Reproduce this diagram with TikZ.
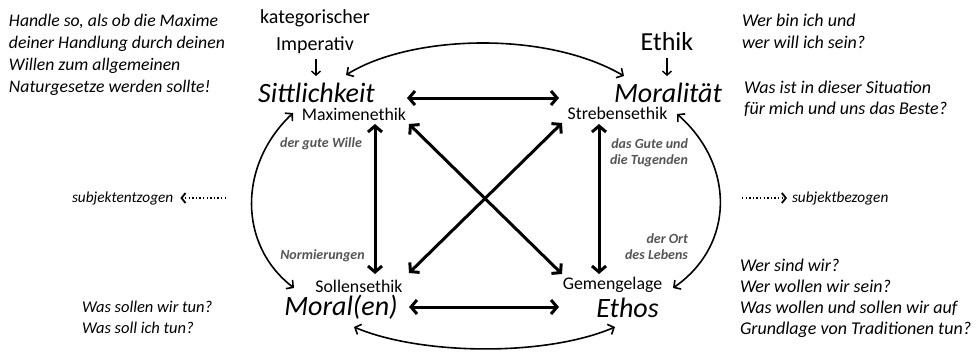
\documentclass[tikz,border=0pt]{standalone}
\usepackage{fontspec}
\setmainfont{Carlito}
\usetikzlibrary{arrows.meta}
\definecolor{labelgray}{RGB}{85,85,85}
\begin{document}
\begin{tikzpicture}[x=1pt,y=-1pt,
  every node/.style={inner sep=0pt, outer sep=0pt},
  big/.style={font=\fontsize{28}{32}\selectfont\itshape},
  head/.style={font=\fontsize{20}{27}\selectfont},
  sub/.style={font=\fontsize{17.8}{20}\selectfont},
  side/.style={font=\fontsize{17.7}{22}\selectfont\itshape, align=left, anchor=west},
  gray label/.style={font=\fontsize{14}{16}\selectfont\bfseries\itshape, text=labelgray},
  dir label/.style={font=\fontsize{15.3}{18}\selectfont\itshape},
  thick link/.style={line width=3pt, {Straight Barb[length=6pt,width=14pt]}-{Straight Barb[length=6pt,width=14pt]}},
  arc link/.style={line width=1.6pt, {Straight Barb[length=5pt,width=11pt]}-{Straight Barb[length=5pt,width=11pt]}},
  small down/.style={line width=1.4pt, -{Straight Barb[length=4pt,width=9pt]}},
  dotted link/.style={line width=1.8pt, dash pattern=on 1.4pt off 2.2pt, -{Straight Barb[length=4pt,width=10pt,sep=1pt]}}
]
\useasboundingbox (0,0) rectangle (979,351);

% side texts
\node[side] (maxim) at (9,55) {Handle so, als ob die Maxime\\deiner Handlung durch deinen\\Willen zum allgemeinen\\Naturgesetze werden sollte!};
\node[side, font=\fontsize{18}{22}\selectfont\itshape] (wer) at (742,31) {Wer bin ich und\\wer will ich sein?};
\node[side, font=\fontsize{18}{21}\selectfont\itshape] (sit) at (744,98.5) {Was ist in dieser Situation\\für mich und uns das Beste?};
\node[side, font=\fontsize{16.5}{21}\selectfont\itshape] (tun) at (82,317.5) {Was sollen wir tun?\\Was soll ich tun?};
\node[side, font=\fontsize{18}{21}\selectfont\itshape] (trad) at (740,298) {Wer sind wir?\\Wer wollen wir sein?\\Was wollen und sollen wir auf\\Grundlage von Traditionen tun?};

% headings above the two upper terms
\node[head, align=center] (kat) at (315,32) {kategorischer\\Imperativ};
\node[head, font=\fontsize{26}{30}\selectfont] (ethik) at (667,42) {Ethik};

% the four terms
\node[big] (sitt) at (316.5,93) {Sittlichkeit};
\node[sub] (maxi) at (354,114) {Maximenethik};
\node[big] (moral) at (668,93) {Moralität};
\node[sub] (streb) at (617.5,113) {Strebensethik};
\node[sub] (soll) at (359,286) {Sollensethik};
\node[big] (moren) at (341,307) {Moral(en)};
\node[sub] (gem) at (612.5,285) {Gemengelage};
\node[big] (ethos) at (627.5,308) {Ethos};

% gray labels
\node[gray label] (wille) at (321,144) {der gute Wille};
\node[gray label, align=right, anchor=east] (tug) at (688,152.5) {das Gute und\\die Tugenden};
\node[gray label] (norm) at (322.5,256) {Normierungen};
\node[gray label, align=right, anchor=east] (ort) at (688,246.5) {der Ort\\des Lebens};

% direction labels with dotted pointers
\node[dir label, anchor=west] (entz) at (72,198) {subjektentzogen};
\node[dir label, anchor=west] (bez) at (792,198) {subjektbezogen};
\coordinate (entzfrom) at (226,198);
\coordinate (bezfrom) at (742,198);
\draw[dotted link, shorten >=6pt] (entzfrom) -- (entz.east);
\draw[dotted link, shorten >=4pt] (bezfrom) -- (bez.west);

% small arrows from the headings
\coordinate (katfoot) at (316,76);
\coordinate (ethikfoot) at (667,76);
\coordinate (kattop) at (316,59);
\coordinate (ethiktop) at (667,58);
\draw[small down] (kattop) -- (katfoot);
\draw[small down] (ethiktop) -- (ethikfoot);

% thick links between the terms
\coordinate (tl) at (407,98);   \coordinate (tr) at (559,98);
\coordinate (bl) at (409,307);  \coordinate (br) at (559,307);
\coordinate (lv1) at (375,124); \coordinate (lv2) at (375,274);
\coordinate (rv1) at (599,124); \coordinate (rv2) at (599,274);
\coordinate (d1a) at (409,124); \coordinate (d1b) at (562,274);
\coordinate (d2a) at (562,123); \coordinate (d2b) at (409,273);
\draw[thick link] (tl) -- (tr);
\draw[thick link] (bl) -- (br);
\draw[thick link] (lv1) -- (lv2);
\draw[thick link] (rv1) -- (rv2);
\draw[thick link] (d1a) -- (d1b);
\draw[thick link] (d2a) -- (d2b);

% curved links around the square
\coordinate (at1) at (346,75);  \coordinate (at2) at (624,76);
\coordinate (ab1) at (354,327); \coordinate (ab2) at (615,327);
\coordinate (al1) at (293,113); \coordinate (al2) at (294,288);
\coordinate (ar1) at (677,114); \coordinate (ar2) at (673,288);
\draw[arc link] (at1) .. controls (410,35) and (545,30) .. (at2);
\draw[arc link] (ab1) .. controls (420,355) and (545,357) .. (ab2);
\draw[arc link] (al1) .. controls (238,165) and (238,245) .. (al2);
\draw[arc link] (ar1) .. controls (735,165) and (735,245) .. (ar2);
\end{tikzpicture}
\end{document}
